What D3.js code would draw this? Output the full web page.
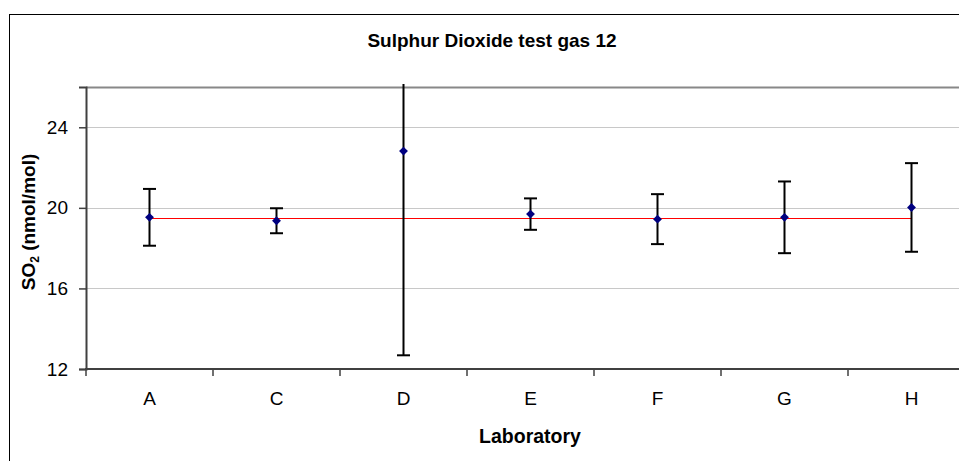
<!DOCTYPE html>
<html>
<head>
<meta charset="utf-8">
<script src="https://cdnjs.cloudflare.com/ajax/libs/d3/7.8.5/d3.min.js"></script>
<style>
  body { margin: 0; background: #fff; }
  svg { display: block; font-family: "Liberation Sans", Arial, sans-serif; }
</style>
</head>
<body>
<svg width="959" height="461"></svg>
<script>
// data
var labs = ["A", "C", "D", "E", "F", "G", "H"];
var values = [19.53, 19.36, 22.82, 19.69, 19.44, 19.53, 20.02];
var uncert = [1.41, 0.62, 10.14, 0.78, 1.24, 1.78, 2.2];
var refValue = 19.52;
var yTicks = [12, 16, 20, 24];

var svg = d3.select("svg"),
    margin = {top: 87, left: 86, bottom: 369, right: 975};

// outer chart border (cropped on the right / bottom)
svg.append("rect")
    .attr("x", 9.5).attr("y", 14.5)
    .attr("width", 1000).attr("height", 500)
    .attr("fill", "none").attr("stroke", "#000").attr("stroke-width", 1);

var x = d3.scaleBand()
    .domain(labs)
    .range([margin.left, margin.right]);

var y = d3.scaleLinear()
    .domain([12, 26])
    .range([margin.bottom, margin.top]);

// title
svg.append("text")
    .attr("x", 492).attr("y", 47)
    .attr("text-anchor", "middle")
    .attr("font-size", 19).attr("font-weight", "bold")
    .text("Sulphur Dioxide test gas 12");

// gridlines
svg.append("g")
    .selectAll("line")
    .data(yTicks.filter(function(d) { return d > 12; }))
    .enter().append("line")
    .attr("x1", margin.left).attr("x2", margin.right)
    .attr("y1", function(d) { return Math.round(y(d)) + 0.5; })
    .attr("y2", function(d) { return Math.round(y(d)) + 0.5; })
    .attr("stroke", "#c8c8c8").attr("stroke-width", 1);

// plot area top border
svg.append("line")
    .attr("x1", margin.left).attr("x2", margin.right)
    .attr("y1", margin.top + 0.5).attr("y2", margin.top + 0.5)
    .attr("stroke", "#888").attr("stroke-width", 2);

// y axis
var yAxis = svg.append("g")
    .attr("transform", "translate(" + margin.left + ",0)")
    .call(d3.axisLeft(y).tickValues(yTicks).tickSize(7).tickPadding(11));
yAxis.select(".domain").attr("stroke", "#404040").attr("stroke-width", 2);
yAxis.selectAll(".tick line").attr("stroke", "#404040").attr("stroke-width", 1.5);
yAxis.selectAll("text")
    .attr("font-size", 19).attr("fill", "#000")
    .attr("font-family", "Liberation Sans, Arial, sans-serif");

// x axis, ticks at category boundaries
var xAxis = svg.append("g")
    .attr("transform", "translate(0," + margin.bottom + ")");
xAxis.append("line")
    .attr("x1", margin.left - 1).attr("x2", margin.right)
    .attr("stroke", "#404040").attr("stroke-width", 2);
xAxis.selectAll(".tk")
    .data(labs)
    .enter().append("line")
    .attr("class", "tk")
    .attr("x1", function(d) { return x(d); })
    .attr("x2", function(d) { return x(d); })
    .attr("y1", 0).attr("y2", 7)
    .attr("stroke", "#404040").attr("stroke-width", 1.5);
xAxis.selectAll(".lb")
    .data(labs)
    .enter().append("text")
    .attr("class", "lb")
    .attr("x", function(d) { return x(d) + x.bandwidth() / 2; })
    .attr("y", 36)
    .attr("text-anchor", "middle")
    .attr("font-size", 19)
    .text(function(d) { return d; });

// axis titles
svg.append("text")
    .attr("x", 530).attr("y", 443)
    .attr("text-anchor", "middle")
    .attr("font-size", 19.5).attr("font-weight", "bold")
    .text("Laboratory");

var yt = svg.append("text")
    .attr("transform", "translate(35,222) rotate(-90)")
    .attr("text-anchor", "middle")
    .attr("font-size", 19).attr("font-weight", "bold");
yt.append("tspan").text("SO");
yt.append("tspan").attr("font-size", 12).attr("dy", 4).text("2");
yt.append("tspan").attr("dy", -4).text(" (nmol/mol)");

// reference value line
var cx = function(d) { return x(d) + x.bandwidth() / 2; };
svg.append("line")
    .attr("x1", cx(labs[0])).attr("x2", cx(labs[labs.length - 1]))
    .attr("y1", Math.round(y(refValue)) + 0.5).attr("y2", Math.round(y(refValue)) + 0.5)
    .attr("stroke", "#ff0000").attr("stroke-width", 1);

// error bars, clipped just above the plot area
svg.append("clipPath").attr("id", "clip")
    .append("rect")
    .attr("x", margin.left).attr("y", margin.top - 3)
    .attr("width", margin.right - margin.left)
    .attr("height", margin.bottom - margin.top + 3);

var bars = svg.append("g").attr("clip-path", "url(#clip)")
    .selectAll("g")
    .data(labs)
    .enter().append("g");

bars.append("line")
    .attr("x1", cx).attr("x2", cx)
    .attr("y1", function(d, i) { return y(values[i] + uncert[i]); })
    .attr("y2", function(d, i) { return y(values[i] - uncert[i]); })
    .attr("stroke", "#000").attr("stroke-width", 2);

[1, -1].forEach(function(s) {
    bars.append("line")
        .attr("x1", function(d) { return cx(d) - 6.5; })
        .attr("x2", function(d) { return cx(d) + 6.5; })
        .attr("y1", function(d, i) { return y(values[i] + s * uncert[i]); })
        .attr("y2", function(d, i) { return y(values[i] + s * uncert[i]); })
        .attr("stroke", "#000").attr("stroke-width", 2);
});

// markers
svg.append("g")
    .selectAll("path")
    .data(labs)
    .enter().append("path")
    .attr("d", d3.symbol().type(d3.symbolDiamond2).size(50))
    .attr("transform", function(d, i) { return "translate(" + cx(d) + "," + y(values[i]) + ")"; })
    .attr("fill", "#000080");
</script>
</body>
</html>
